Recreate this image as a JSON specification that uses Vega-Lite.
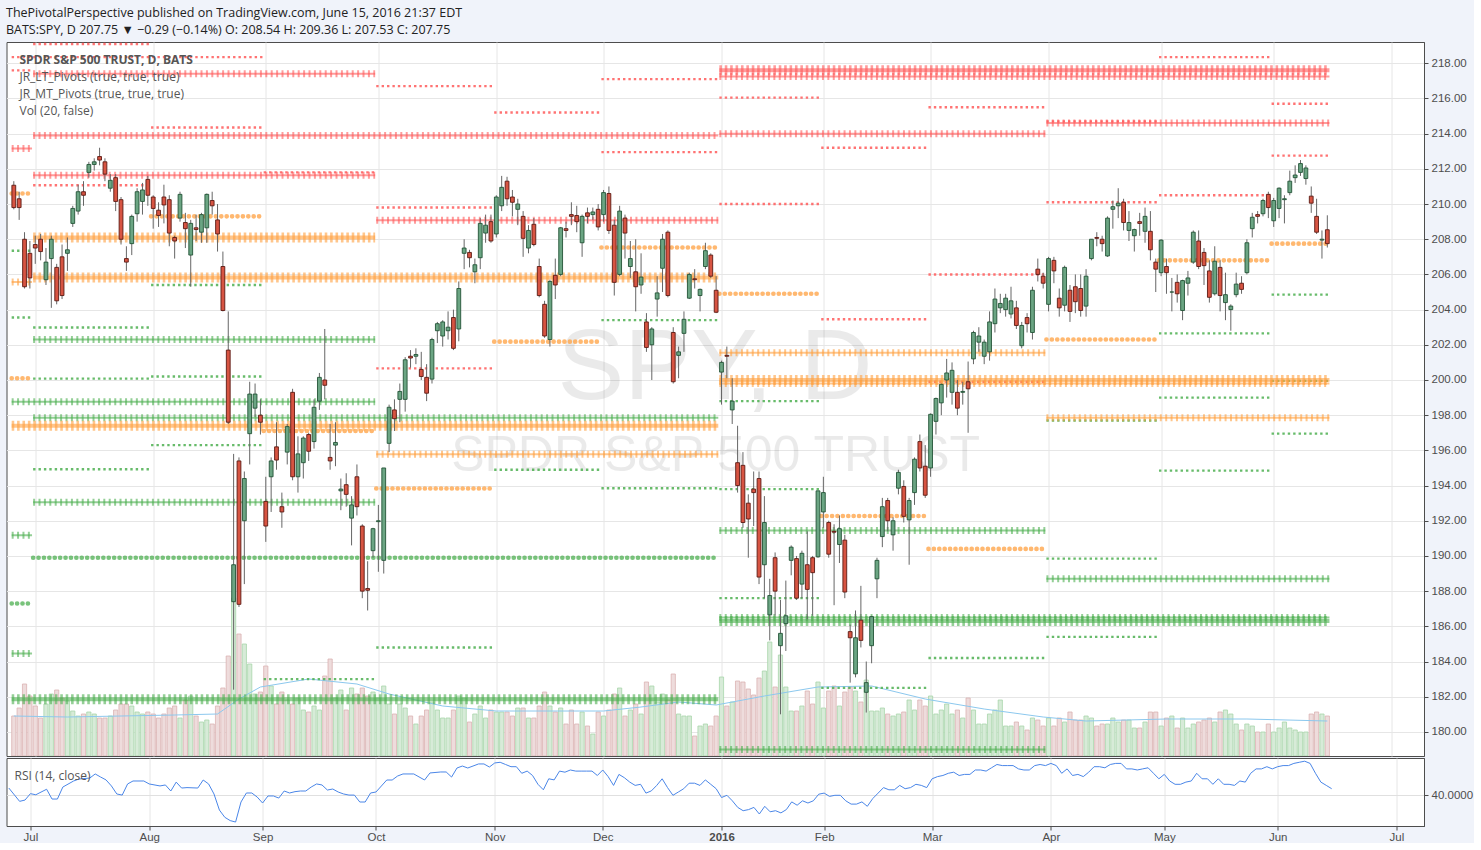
{
"$schema":"https://vega.github.io/schema/vega-lite/v6.json",
"background":"#f0f3fa",
"padding":{"left":5.5,"top":6,"right":0,"bottom":0},
"title":{"text":"ThePivotalPerspective published on TradingView.com, June 15, 2016 21:37 EDT","subtitle":"BATS:SPY, D  207.75 ▼ −0.29 (−0.14%)  O: 208.54  H: 209.36  L: 207.53  C: 207.75","anchor":"start","frame":"bounds","font":"Open Sans","fontSize":12.5,"fontWeight":"normal","color":"#222","subtitleFont":"Open Sans","subtitleFontSize":12.5,"subtitleColor":"#222","subtitlePadding":5,"offset":5},
"datasets":{
"bars":[
{"i":0,"o":211.07,"h":211.3,"l":209.7,"c":209.8,"v":40},{"i":1,"o":210.3,"h":210.7,"l":209.1,"c":209.8,"v":48},{"i":2,"o":208.0,"h":208.4,"l":205.2,"c":205.3,"v":72},{"i":3,"o":207.2,"h":207.9,"l":205.2,"c":205.8,"v":60},{"i":4,"o":207.7,"h":208.2,"l":206.6,"c":207.5,"v":50},{"i":5,"o":208.0,"h":208.3,"l":206.8,"c":207.3,"v":38},{"i":6,"o":205.7,"h":207.5,"l":205.4,"c":206.7,"v":52},{"i":7,"o":206.9,"h":208.2,"l":204.1,"c":208.0,"v":62},{"i":8,"o":206.4,"h":206.6,"l":204.3,"c":204.5,"v":66},{"i":9,"o":207.0,"h":207.7,"l":204.6,"c":204.8,"v":58},
{"i":10,"o":207.2,"h":208.1,"l":206.2,"c":207.4,"v":55},{"i":11,"o":208.9,"h":209.9,"l":208.7,"c":209.75,"v":45},{"i":12,"o":209.6,"h":211.1,"l":209.4,"c":210.7,"v":40},{"i":13,"o":210.7,"h":211.3,"l":209.9,"c":210.5,"v":42},{"i":14,"o":211.8,"h":212.4,"l":211.5,"c":212.25,"v":44},{"i":15,"o":212.25,"h":212.6,"l":211.9,"c":212.4,"v":42},{"i":16,"o":212.7,"h":213.2,"l":212.2,"c":212.5,"v":38},{"i":17,"o":212.4,"h":212.6,"l":211.3,"c":211.7,"v":38},{"i":18,"o":210.9,"h":211.7,"l":210.7,"c":211.35,"v":40},{"i":19,"o":211.5,"h":211.7,"l":209.6,"c":210.15,"v":46},
{"i":20,"o":210.25,"h":210.4,"l":207.7,"c":208.0,"v":52},{"i":21,"o":206.9,"h":207.6,"l":206.2,"c":206.7,"v":52},{"i":22,"o":207.75,"h":209.4,"l":207.1,"c":209.3,"v":50},{"i":23,"o":209.45,"h":210.9,"l":209.0,"c":210.7,"v":44},{"i":24,"o":210.15,"h":211.2,"l":209.4,"c":210.8,"v":42},{"i":25,"o":211.4,"h":211.6,"l":209.9,"c":210.5,"v":44},{"i":26,"o":210.4,"h":210.5,"l":208.6,"c":209.75,"v":42},{"i":27,"o":209.65,"h":210.1,"l":208.7,"c":209.35,"v":38},{"i":28,"o":210.4,"h":211.1,"l":208.9,"c":209.95,"v":42},{"i":29,"o":210.25,"h":210.5,"l":207.6,"c":208.35,"v":48},
{"i":30,"o":208.1,"h":208.2,"l":206.9,"c":207.9,"v":50},{"i":31,"o":209.2,"h":210.7,"l":209.0,"c":210.55,"v":38},{"i":32,"o":208.95,"h":209.5,"l":207.5,"c":208.6,"v":56},{"i":33,"o":207.1,"h":209.1,"l":205.3,"c":208.9,"v":60},{"i":34,"o":208.65,"h":209.4,"l":207.9,"c":208.55,"v":40},{"i":35,"o":208.4,"h":209.5,"l":207.8,"c":209.4,"v":34},{"i":36,"o":208.65,"h":210.6,"l":207.8,"c":210.55,"v":36},{"i":37,"o":210.2,"h":210.7,"l":209.4,"c":209.9,"v":32},{"i":38,"o":209.1,"h":210.0,"l":207.3,"c":208.3,"v":50},{"i":39,"o":206.45,"h":207.3,"l":203.9,"c":203.95,"v":68},
{"i":40,"o":201.7,"h":203.9,"l":197.5,"c":197.6,"v":100},{"i":41,"o":187.4,"h":195.8,"l":182.4,"c":189.5,"v":158},{"i":42,"o":195.4,"h":195.6,"l":187.1,"c":187.25,"v":122},{"i":43,"o":192.0,"h":194.8,"l":188.4,"c":194.4,"v":112},{"i":44,"o":196.95,"h":199.9,"l":195.2,"c":199.2,"v":92},{"i":45,"o":198.4,"h":199.8,"l":197.9,"c":199.2,"v":62},{"i":46,"o":198.0,"h":198.9,"l":196.9,"c":197.6,"v":64},{"i":47,"o":193.1,"h":194.5,"l":190.8,"c":191.7,"v":90},{"i":48,"o":194.5,"h":195.6,"l":192.5,"c":195.4,"v":70},{"i":49,"o":196.2,"h":197.6,"l":194.9,"c":195.45,"v":52},
{"i":50,"o":192.8,"h":193.6,"l":191.6,"c":192.5,"v":64},{"i":51,"o":195.9,"h":197.5,"l":195.2,"c":197.35,"v":56},{"i":52,"o":199.3,"h":199.5,"l":194.3,"c":194.5,"v":52},{"i":53,"o":194.5,"h":196.8,"l":193.6,"c":195.8,"v":58},{"i":54,"o":195.3,"h":196.8,"l":194.4,"c":196.7,"v":46},{"i":55,"o":196.9,"h":197.0,"l":195.4,"c":195.95,"v":44},{"i":56,"o":196.5,"h":198.9,"l":196.1,"c":198.45,"v":50},{"i":57,"o":198.8,"h":200.4,"l":198.3,"c":200.15,"v":46},{"i":58,"o":200.0,"h":202.9,"l":198.9,"c":199.7,"v":80},{"i":59,"o":195.6,"h":197.5,"l":194.9,"c":195.4,"v":97},
{"i":60,"o":196.3,"h":197.6,"l":195.1,"c":196.45,"v":58},{"i":61,"o":193.7,"h":194.4,"l":192.6,"c":193.8,"v":66},{"i":62,"o":194.05,"h":194.7,"l":192.8,"c":193.5,"v":46},{"i":63,"o":192.15,"h":193.4,"l":190.6,"c":192.9,"v":68},{"i":64,"o":194.5,"h":195.2,"l":192.3,"c":192.8,"v":62},{"i":65,"o":191.7,"h":191.8,"l":187.6,"c":188.0,"v":68},{"i":66,"o":188.15,"h":189.7,"l":186.9,"c":188.05,"v":60},{"i":67,"o":190.3,"h":191.6,"l":189.9,"c":191.55,"v":64},{"i":68,"o":191.95,"h":192.9,"l":189.1,"c":192.0,"v":58},{"i":69,"o":189.75,"h":195.0,"l":189.0,"c":195.0,"v":70},
{"i":70,"o":196.4,"h":198.6,"l":195.9,"c":198.45,"v":52},{"i":71,"o":198.3,"h":198.9,"l":197.1,"c":197.8,"v":42},{"i":72,"o":198.9,"h":199.8,"l":197.6,"c":199.35,"v":52},{"i":73,"o":198.9,"h":201.3,"l":198.2,"c":201.15,"v":48},{"i":74,"o":201.35,"h":201.7,"l":200.7,"c":201.25,"v":40},{"i":75,"o":201.35,"h":201.8,"l":200.9,"c":201.45,"v":32},{"i":76,"o":200.6,"h":201.6,"l":200.0,"c":200.2,"v":40},{"i":77,"o":200.15,"h":200.9,"l":198.8,"c":199.25,"v":46},{"i":78,"o":200.05,"h":202.4,"l":199.8,"c":202.3,"v":54},{"i":79,"o":202.8,"h":203.3,"l":202.1,"c":203.2,"v":46},
{"i":80,"o":202.5,"h":203.4,"l":201.9,"c":203.3,"v":38},{"i":81,"o":202.8,"h":203.9,"l":202.3,"c":203.0,"v":38},{"i":82,"o":203.55,"h":204.0,"l":201.7,"c":201.8,"v":46},{"i":83,"o":202.9,"h":205.6,"l":202.2,"c":205.2,"v":60},{"i":84,"o":207.2,"h":208.0,"l":206.3,"c":207.5,"v":58},{"i":85,"o":207.25,"h":207.4,"l":206.4,"c":206.95,"v":34},{"i":86,"o":206.15,"h":206.9,"l":205.5,"c":206.55,"v":42},{"i":87,"o":206.95,"h":209.2,"l":206.3,"c":208.9,"v":50},{"i":88,"o":208.35,"h":209.4,"l":207.8,"c":208.8,"v":38},{"i":89,"o":209.0,"h":209.4,"l":207.8,"c":207.9,"v":46},
{"i":90,"o":208.3,"h":210.5,"l":208.1,"c":210.4,"v":44},{"i":91,"o":209.9,"h":211.6,"l":209.6,"c":210.95,"v":44},{"i":92,"o":211.3,"h":211.55,"l":209.9,"c":210.3,"v":44},{"i":93,"o":210.4,"h":210.8,"l":209.3,"c":210.1,"v":40},{"i":94,"o":209.7,"h":210.3,"l":208.8,"c":210.0,"v":48},{"i":95,"o":209.3,"h":209.6,"l":207.0,"c":208.05,"v":48},{"i":96,"o":207.5,"h":208.8,"l":207.2,"c":208.5,"v":38},{"i":97,"o":208.85,"h":209.2,"l":207.6,"c":207.7,"v":38},{"i":98,"o":206.45,"h":206.9,"l":204.7,"c":204.8,"v":50},{"i":99,"o":204.3,"h":204.5,"l":202.4,"c":202.5,"v":64},
{"i":100,"o":202.3,"h":205.7,"l":201.9,"c":205.6,"v":50},{"i":101,"o":205.95,"h":206.9,"l":204.6,"c":205.4,"v":44},{"i":102,"o":206.0,"h":208.7,"l":205.9,"c":208.65,"v":48},{"i":103,"o":208.6,"h":209.0,"l":208.1,"c":208.5,"v":32},{"i":104,"o":209.4,"h":210.1,"l":208.8,"c":209.3,"v":46},{"i":105,"o":209.35,"h":209.9,"l":208.4,"c":209.0,"v":32},{"i":106,"o":207.8,"h":209.4,"l":207.0,"c":209.3,"v":44},{"i":107,"o":209.5,"h":209.8,"l":208.9,"c":209.3,"v":30},{"i":108,"o":209.4,"h":209.8,"l":209.1,"c":209.55,"v":22},{"i":109,"o":209.7,"h":210.0,"l":208.5,"c":208.7,"v":44},
{"i":110,"o":209.4,"h":210.8,"l":209.0,"c":210.65,"v":40},{"i":111,"o":210.6,"h":211.0,"l":208.3,"c":208.5,"v":46},{"i":112,"o":208.8,"h":209.1,"l":204.8,"c":205.55,"v":62},{"i":113,"o":206.0,"h":209.9,"l":205.9,"c":209.6,"v":68},{"i":114,"o":209.2,"h":209.4,"l":206.9,"c":208.35,"v":40},{"i":115,"o":206.45,"h":207.9,"l":205.8,"c":206.9,"v":46},{"i":116,"o":206.15,"h":208.0,"l":203.9,"c":205.3,"v":52},{"i":117,"o":205.4,"h":207.2,"l":204.9,"c":205.85,"v":42},{"i":118,"o":203.3,"h":203.8,"l":201.6,"c":201.85,"v":74},{"i":119,"o":202.0,"h":203.0,"l":200.0,"c":202.9,"v":70},
{"i":120,"o":204.6,"h":205.9,"l":203.6,"c":204.95,"v":54},{"i":121,"o":206.35,"h":208.3,"l":205.0,"c":208.0,"v":62},{"i":122,"o":208.4,"h":208.5,"l":204.7,"c":204.8,"v":56},{"i":123,"o":202.7,"h":203.0,"l":199.8,"c":199.9,"v":82},{"i":124,"o":201.4,"h":201.9,"l":200.1,"c":201.6,"v":42},{"i":125,"o":202.65,"h":203.9,"l":201.6,"c":203.45,"v":40},{"i":126,"o":204.65,"h":206.1,"l":204.6,"c":206.0,"v":40},{"i":127,"o":205.75,"h":206.3,"l":205.2,"c":205.7,"v":20},{"i":128,"o":204.8,"h":205.2,"l":203.9,"c":205.15,"v":30},{"i":129,"o":206.45,"h":207.8,"l":206.3,"c":207.35,"v":32},
{"i":130,"o":207.1,"h":207.2,"l":205.8,"c":205.9,"v":30},{"i":131,"o":205.1,"h":205.9,"l":203.8,"c":203.85,"v":40},{"i":132,"o":200.45,"h":201.1,"l":198.6,"c":201.0,"v":79},{"i":133,"o":201.4,"h":201.9,"l":200.1,"c":201.35,"v":50},{"i":134,"o":198.3,"h":200.1,"l":197.5,"c":198.8,"v":54},{"i":135,"o":195.3,"h":197.4,"l":193.6,"c":194.0,"v":75},{"i":136,"o":195.15,"h":195.9,"l":191.6,"c":191.9,"v":74},{"i":137,"o":193.0,"h":193.5,"l":189.9,"c":192.1,"v":67},{"i":138,"o":193.8,"h":194.8,"l":191.7,"c":193.6,"v":61},{"i":139,"o":194.4,"h":194.8,"l":188.4,"c":188.8,"v":78},
{"i":140,"o":189.5,"h":193.4,"l":187.6,"c":191.9,"v":85},{"i":141,"o":186.65,"h":188.7,"l":185.2,"c":187.75,"v":114},{"i":142,"o":189.9,"h":190.2,"l":186.6,"c":188.0,"v":69},{"i":143,"o":184.9,"h":187.5,"l":181.0,"c":185.6,"v":101},{"i":144,"o":186.15,"h":188.6,"l":184.6,"c":186.6,"v":69},{"i":145,"o":189.75,"h":190.6,"l":188.9,"c":190.5,"v":45},{"i":146,"o":189.85,"h":190.0,"l":187.5,"c":187.6,"v":45},{"i":147,"o":188.4,"h":190.3,"l":187.6,"c":190.15,"v":50},{"i":148,"o":189.5,"h":191.4,"l":186.4,"c":188.1,"v":65},{"i":149,"o":189.9,"h":190.0,"l":186.6,"c":189.05,"v":52},
{"i":150,"o":189.95,"h":193.7,"l":189.9,"c":193.7,"v":74},{"i":151,"o":192.5,"h":194.5,"l":191.6,"c":193.6,"v":48},{"i":152,"o":191.9,"h":192.0,"l":189.9,"c":190.1,"v":65},{"i":153,"o":191.4,"h":191.8,"l":187.2,"c":191.35,"v":70},{"i":154,"o":190.65,"h":192.3,"l":189.6,"c":191.55,"v":50},{"i":155,"o":190.9,"h":191.2,"l":187.6,"c":187.95,"v":64},{"i":156,"o":185.7,"h":186.1,"l":182.8,"c":185.35,"v":69},{"i":157,"o":183.3,"h":186.9,"l":183.1,"c":185.35,"v":65},{"i":158,"o":186.35,"h":188.3,"l":184.8,"c":185.2,"v":54},{"i":159,"o":182.25,"h":184.0,"l":181.1,"c":182.8,"v":76},
{"i":160,"o":184.9,"h":186.6,"l":183.9,"c":186.55,"v":45},{"i":161,"o":188.7,"h":189.9,"l":187.6,"c":189.75,"v":45},{"i":162,"o":191.1,"h":193.3,"l":190.5,"c":192.8,"v":48},{"i":163,"o":193.15,"h":193.3,"l":191.4,"c":192.0,"v":42},{"i":164,"o":191.2,"h":192.2,"l":190.3,"c":192.0,"v":40},{"i":165,"o":193.85,"h":194.9,"l":193.5,"c":194.75,"v":42},{"i":166,"o":193.95,"h":194.3,"l":191.9,"c":192.25,"v":44},{"i":167,"o":192.05,"h":193.3,"l":189.5,"c":193.15,"v":56},{"i":168,"o":193.6,"h":195.6,"l":192.9,"c":195.5,"v":46},{"i":169,"o":196.5,"h":196.9,"l":194.8,"c":195.0,"v":56},
{"i":170,"o":195.1,"h":196.3,"l":193.3,"c":193.45,"v":50},{"i":171,"o":195.0,"h":198.1,"l":194.5,"c":198.05,"v":60},{"i":172,"o":197.65,"h":199.0,"l":196.9,"c":198.95,"v":42},{"i":173,"o":198.7,"h":199.8,"l":198.0,"c":199.75,"v":46},{"i":174,"o":200.0,"h":201.2,"l":199.0,"c":200.4,"v":52},{"i":175,"o":199.3,"h":201.0,"l":198.6,"c":200.55,"v":42},{"i":176,"o":199.3,"h":200.0,"l":198.0,"c":198.4,"v":46},{"i":177,"o":199.3,"h":199.9,"l":198.6,"c":199.35,"v":38},{"i":178,"o":199.9,"h":201.05,"l":197.0,"c":199.5,"v":58},{"i":179,"o":201.2,"h":202.8,"l":200.9,"c":202.7,"v":46},
{"i":180,"o":202.15,"h":203.0,"l":201.6,"c":202.5,"v":32},{"i":181,"o":201.35,"h":202.3,"l":200.9,"c":202.15,"v":32},{"i":182,"o":201.6,"h":203.9,"l":201.1,"c":203.3,"v":42},{"i":183,"o":203.2,"h":205.2,"l":202.7,"c":204.6,"v":46},{"i":184,"o":204.1,"h":204.9,"l":203.8,"c":204.35,"v":56},{"i":185,"o":204.0,"h":204.9,"l":203.6,"c":204.65,"v":30},{"i":186,"o":203.75,"h":205.3,"l":203.5,"c":204.5,"v":30},{"i":187,"o":204.1,"h":204.5,"l":202.9,"c":203.1,"v":34},{"i":188,"o":201.95,"h":203.3,"l":201.8,"c":203.1,"v":30},{"i":189,"o":203.55,"h":203.8,"l":202.7,"c":203.2,"v":26},
{"i":190,"o":202.7,"h":205.3,"l":202.3,"c":205.1,"v":38},{"i":191,"o":206.3,"h":206.9,"l":205.6,"c":206.0,"v":36},{"i":192,"o":205.9,"h":206.1,"l":205.2,"c":205.5,"v":30},{"i":193,"o":204.3,"h":207.0,"l":203.9,"c":206.9,"v":38},{"i":194,"o":206.8,"h":207.0,"l":205.5,"c":206.2,"v":30},{"i":195,"o":204.65,"h":205.2,"l":203.6,"c":204.1,"v":38},{"i":196,"o":204.25,"h":206.5,"l":203.9,"c":206.4,"v":34},{"i":197,"o":205.1,"h":205.4,"l":203.3,"c":203.9,"v":44},{"i":198,"o":205.3,"h":206.0,"l":203.8,"c":204.45,"v":36},{"i":199,"o":205.2,"h":206.0,"l":203.6,"c":203.95,"v":36},
{"i":200,"o":204.2,"h":206.3,"l":203.6,"c":205.9,"v":40},{"i":201,"o":206.9,"h":208.0,"l":206.8,"c":208.0,"v":38},{"i":202,"o":208.1,"h":208.4,"l":207.6,"c":208.05,"v":30},{"i":203,"o":208.0,"h":208.2,"l":207.3,"c":207.75,"v":32},{"i":204,"o":207.05,"h":209.3,"l":207.0,"c":209.2,"v":32},{"i":205,"o":209.7,"h":210.2,"l":208.6,"c":209.85,"v":38},{"i":206,"o":209.9,"h":210.9,"l":209.2,"c":210.05,"v":34},{"i":207,"o":210.1,"h":210.3,"l":208.5,"c":208.95,"v":36},{"i":208,"o":208.5,"h":209.6,"l":207.9,"c":208.95,"v":36},{"i":209,"o":208.2,"h":208.6,"l":207.3,"c":208.55,"v":28},
{"i":210,"o":209.0,"h":209.5,"l":208.2,"c":208.9,"v":28},{"i":211,"o":208.45,"h":209.8,"l":207.8,"c":209.3,"v":34},{"i":212,"o":208.45,"h":209.6,"l":206.8,"c":207.4,"v":44},{"i":213,"o":206.7,"h":206.9,"l":205.0,"c":206.3,"v":44},{"i":214,"o":206.1,"h":208.0,"l":205.9,"c":207.95,"v":30},{"i":215,"o":206.45,"h":206.9,"l":204.9,"c":206.1,"v":38},{"i":216,"o":205.0,"h":205.8,"l":203.9,"c":205.0,"v":40},{"i":217,"o":205.55,"h":206.0,"l":204.4,"c":204.9,"v":28},{"i":218,"o":203.95,"h":205.7,"l":203.4,"c":205.65,"v":38},{"i":219,"o":205.5,"h":206.2,"l":204.8,"c":205.8,"v":28},
{"i":220,"o":206.7,"h":208.5,"l":206.6,"c":208.4,"v":32},{"i":221,"o":207.9,"h":208.5,"l":206.3,"c":206.45,"v":34},{"i":222,"o":207.25,"h":207.5,"l":205.4,"c":206.5,"v":36},{"i":223,"o":206.2,"h":206.8,"l":204.4,"c":204.7,"v":38},{"i":224,"o":204.9,"h":207.6,"l":204.8,"c":206.75,"v":34},{"i":225,"o":206.4,"h":206.8,"l":203.9,"c":204.8,"v":44},{"i":226,"o":204.4,"h":206.1,"l":203.4,"c":204.85,"v":46},{"i":227,"o":204.0,"h":204.3,"l":202.8,"c":204.2,"v":42},{"i":228,"o":204.85,"h":206.1,"l":204.7,"c":205.45,"v":32},{"i":229,"o":205.5,"h":205.9,"l":204.9,"c":205.15,"v":26},
{"i":230,"o":206.1,"h":208.0,"l":206.0,"c":207.8,"v":32},{"i":231,"o":208.6,"h":209.5,"l":208.1,"c":209.25,"v":30},{"i":232,"o":209.4,"h":209.6,"l":208.9,"c":209.3,"v":24},{"i":233,"o":209.45,"h":210.3,"l":209.3,"c":210.2,"v":24},{"i":234,"o":210.55,"h":210.7,"l":209.2,"c":209.8,"v":32},{"i":235,"o":209.05,"h":210.35,"l":208.7,"c":210.2,"v":24},{"i":236,"o":209.75,"h":210.95,"l":209.2,"c":210.9,"v":28},{"i":237,"o":210.25,"h":210.5,"l":208.9,"c":210.3,"v":34},{"i":238,"o":210.65,"h":211.9,"l":210.5,"c":211.3,"v":28},{"i":239,"o":211.5,"h":212.2,"l":211.2,"c":211.65,"v":26},
{"i":240,"o":211.8,"h":212.5,"l":211.6,"c":212.3,"v":24},{"i":241,"o":211.45,"h":212.2,"l":211.1,"c":212.05,"v":24},{"i":242,"o":210.45,"h":211.0,"l":209.5,"c":210.05,"v":42},{"i":243,"o":209.3,"h":210.3,"l":208.3,"c":208.4,"v":44},{"i":244,"o":207.95,"h":208.5,"l":206.9,"c":208.0,"v":42},{"i":245,"o":208.54,"h":209.36,"l":207.53,"c":207.75,"v":40}
],
"levels":[
{"s":-0.4,"e":46.4,"p":218.35,"k":"R","t":"m"},{"s":-0.4,"e":3.4,"p":217.6,"k":"R","t":"m"},{"s":-0.4,"e":3.4,"p":213.15,"k":"R","t":"q"},{"s":-0.4,"e":3.4,"p":210.6,"k":"P","t":"d"},{"s":-0.4,"e":3.4,"p":207.35,"k":"S","t":"m"},{"s":-0.4,"e":3.4,"p":205.57,"k":"P","t":"q"},{"s":-0.4,"e":3.4,"p":203.55,"k":"S","t":"m"},{"s":-0.4,"e":3.4,"p":200.1,"k":"P","t":"d"},{"s":-0.4,"e":3.4,"p":191.17,"k":"S","t":"q"},{"s":-0.4,"e":3.4,"p":187.3,"k":"S","t":"d"},{"s":-0.4,"e":3.4,"p":184.45,"k":"S","t":"q"},
{"s":-0.4,"e":131.4,"p":197.4,"k":"P","t":"y"},{"s":-0.4,"e":131.4,"p":181.85,"k":"S","t":"y"},
{"s":3.6,"e":131.4,"p":213.9,"k":"R","t":"q"},{"s":3.6,"e":131.4,"p":205.83,"k":"P","t":"y"},{"s":3.6,"e":131.4,"p":197.86,"k":"S","t":"q"},{"s":3.6,"e":131.4,"p":189.9,"k":"S","t":"d"},
{"s":3.6,"e":67.4,"p":217.4,"k":"R","t":"q"},{"s":3.6,"e":67.4,"p":211.63,"k":"R","t":"q"},{"s":3.6,"e":67.4,"p":208.1,"k":"P","t":"y"},{"s":3.6,"e":67.4,"p":202.3,"k":"S","t":"q"},{"s":-0.4,"e":67.4,"p":198.77,"k":"S","t":"q"},{"s":3.6,"e":67.4,"p":193.05,"k":"S","t":"q"},
{"s":67.6,"e":131.4,"p":209.08,"k":"R","t":"q"},{"s":67.6,"e":131.4,"p":195.78,"k":"P","t":"q"},
{"s":3.6,"e":25.4,"p":219.1,"k":"R","t":"m"},{"s":3.6,"e":25.4,"p":211.07,"k":"R","t":"m"},{"s":3.6,"e":25.4,"p":202.98,"k":"S","t":"m"},{"s":3.6,"e":25.4,"p":200.08,"k":"S","t":"m"},{"s":3.6,"e":25.4,"p":194.93,"k":"S","t":"m"},
{"s":25.6,"e":46.4,"p":214.35,"k":"R","t":"m"},{"s":25.6,"e":46.4,"p":209.3,"k":"P","t":"d"},{"s":25.6,"e":46.4,"p":205.4,"k":"S","t":"m"},{"s":25.6,"e":46.4,"p":200.2,"k":"S","t":"m"},{"s":25.6,"e":46.4,"p":196.3,"k":"S","t":"m"},
{"s":46.6,"e":67.4,"p":211.8,"k":"R","t":"m"},{"s":46.6,"e":67.4,"p":197.1,"k":"P","t":"d"},{"s":46.6,"e":67.4,"p":183.0,"k":"S","t":"m"},
{"s":67.6,"e":89.4,"p":216.7,"k":"R","t":"m"},{"s":67.6,"e":89.4,"p":209.8,"k":"R","t":"m"},{"s":67.6,"e":89.4,"p":200.66,"k":"R","t":"m"},{"s":67.6,"e":89.4,"p":193.83,"k":"P","t":"d"},{"s":67.6,"e":89.4,"p":184.8,"k":"S","t":"m"},
{"s":89.6,"e":109.4,"p":215.2,"k":"R","t":"m"},{"s":89.6,"e":109.4,"p":202.18,"k":"P","t":"d"},{"s":89.6,"e":109.4,"p":194.9,"k":"S","t":"m"},
{"s":109.6,"e":131.4,"p":217.1,"k":"R","t":"m"},{"s":109.6,"e":131.4,"p":212.95,"k":"R","t":"m"},{"s":109.6,"e":131.4,"p":207.53,"k":"P","t":"d"},{"s":109.6,"e":131.4,"p":203.4,"k":"S","t":"m"},{"s":109.6,"e":131.4,"p":193.85,"k":"S","t":"m"},
{"s":131.6,"e":245.4,"p":217.6,"k":"R","t":"y"},{"s":131.6,"e":245.4,"p":217.25,"k":"R","t":"q"},{"s":131.6,"e":245.4,"p":200.0,"k":"P","t":"y"},{"s":131.6,"e":245.4,"p":199.8,"k":"P","t":"q"},{"s":131.6,"e":245.4,"p":186.3,"k":"S","t":"y"},{"s":131.6,"e":245.4,"p":186.5,"k":"S","t":"q"},
{"s":131.6,"e":192.4,"p":214.0,"k":"R","t":"q"},{"s":131.6,"e":192.4,"p":201.55,"k":"P","t":"q"},{"s":131.6,"e":192.4,"p":191.45,"k":"S","t":"q"},{"s":131.6,"e":192.4,"p":179.0,"k":"S","t":"q"},
{"s":192.6,"e":245.4,"p":214.6,"k":"R","t":"q"},{"s":192.6,"e":245.4,"p":197.85,"k":"P","t":"q"},{"s":192.6,"e":245.4,"p":188.7,"k":"S","t":"q"},
{"s":131.6,"e":150.4,"p":216.05,"k":"R","t":"m"},{"s":131.6,"e":150.4,"p":210.0,"k":"R","t":"m"},{"s":131.6,"e":150.4,"p":204.9,"k":"P","t":"d"},{"s":131.6,"e":150.4,"p":198.8,"k":"S","t":"m"},{"s":131.6,"e":150.4,"p":193.8,"k":"S","t":"m"},{"s":131.6,"e":150.4,"p":187.6,"k":"S","t":"m"},
{"s":150.6,"e":170.4,"p":213.2,"k":"R","t":"m"},{"s":150.6,"e":170.4,"p":203.45,"k":"R","t":"m"},{"s":150.6,"e":170.4,"p":192.27,"k":"P","t":"d"},{"s":150.6,"e":170.4,"p":182.5,"k":"S","t":"m"},
{"s":170.6,"e":192.4,"p":215.5,"k":"R","t":"m"},{"s":170.6,"e":192.4,"p":206.0,"k":"R","t":"m"},{"s":170.6,"e":192.4,"p":199.9,"k":"R","t":"m"},{"s":170.6,"e":192.4,"p":190.4,"k":"P","t":"d"},{"s":170.6,"e":192.4,"p":184.2,"k":"S","t":"m"},
{"s":192.6,"e":213.4,"p":214.7,"k":"R","t":"m"},{"s":192.6,"e":213.4,"p":210.1,"k":"R","t":"m"},{"s":192.6,"e":213.4,"p":202.3,"k":"P","t":"d"},{"s":192.6,"e":213.4,"p":197.7,"k":"S","t":"m"},{"s":192.6,"e":213.4,"p":189.85,"k":"S","t":"m"},{"s":192.6,"e":213.4,"p":185.4,"k":"S","t":"m"},
{"s":213.6,"e":234.4,"p":218.35,"k":"R","t":"m"},{"s":213.6,"e":234.4,"p":210.5,"k":"R","t":"m"},{"s":213.6,"e":234.4,"p":206.8,"k":"P","t":"d"},{"s":213.6,"e":234.4,"p":202.65,"k":"S","t":"m"},{"s":213.6,"e":234.4,"p":199.0,"k":"S","t":"m"},{"s":213.6,"e":234.4,"p":194.85,"k":"S","t":"m"},
{"s":234.6,"e":245.4,"p":215.7,"k":"R","t":"m"},{"s":234.6,"e":245.4,"p":212.75,"k":"R","t":"m"},{"s":234.6,"e":245.4,"p":207.75,"k":"P","t":"d"},{"s":234.6,"e":245.4,"p":204.85,"k":"S","t":"m"},{"s":234.6,"e":245.4,"p":199.95,"k":"S","t":"m"},{"s":234.6,"e":245.4,"p":196.95,"k":"S","t":"m"}
],
"vma":[{"i":0,"m":40},{"i":10,"m":39},{"i":20,"m":40},{"i":30,"m":41},{"i":38,"m":42},{"i":42,"m":57},{"i":46,"m":69},{"i":55,"m":77},{"i":64,"m":72},{"i":70,"m":62},{"i":80,"m":50},{"i":90,"m":45},{"i":100,"m":45},{"i":110,"m":45},{"i":117,"m":49},{"i":124,"m":54},{"i":131,"m":51},{"i":140,"m":60},{"i":150,"m":69},{"i":160,"m":70},{"i":170,"m":57},{"i":181,"m":47},{"i":192,"m":39},{"i":200,"m":35},{"i":215,"m":37},{"i":230,"m":37},{"i":245,"m":35}],
"rsi":[{"i":0,"r":46.6},{"i":2,"r":34.5},{"i":3,"r":35.7},{"i":4,"r":41.5},{"i":5,"r":40.5},{"i":7,"r":45.5},{"i":8,"r":36.6},{"i":9,"r":36.6},{"i":10,"r":47.5},{"i":12,"r":53},{"i":13,"r":54.8},{"i":15,"r":55.7},{"i":16,"r":59.4},{"i":17,"r":56.6},{"i":18,"r":54},{"i":19,"r":48.5},{"i":20,"r":41.2},{"i":21,"r":40.2},{"i":22,"r":50.3},{"i":23,"r":53},{"i":25,"r":53},{"i":26,"r":50.3},{"i":28,"r":48.5},{"i":29,"r":49.4},{"i":30,"r":43.9},{"i":31,"r":52},{"i":32,"r":46.6},{"i":33,"r":47},{"i":35,"r":46.6},{"i":36,"r":53.9},{"i":37,"r":50.3},{"i":38,"r":41.2},{"i":39,"r":26.6},{"i":40,"r":20},{"i":41,"r":17},{"i":42,"r":15.7},{"i":43,"r":33.9},{"i":44,"r":42.1},{"i":45,"r":42.1},{"i":46,"r":38.4},{"i":47,"r":33},{"i":48,"r":39.4},{"i":49,"r":39.4},{"i":50,"r":37.5},{"i":51,"r":43.9},{"i":52,"r":42.1},{"i":53,"r":43.3},{"i":54,"r":43.9},{"i":55,"r":43.9},{"i":56,"r":47.5},{"i":57,"r":50.3},{"i":58,"r":49.4},{"i":59,"r":44.8},{"i":60,"r":45.7},{"i":61,"r":43},{"i":62,"r":41.2},{"i":63,"r":40.2},{"i":64,"r":40.2},{"i":65,"r":33.9},{"i":66,"r":33.9},{"i":67,"r":42.1},{"i":68,"r":43},{"i":70,"r":53.9},{"i":71,"r":53.9},{"i":72,"r":57.5},{"i":73,"r":59.4},{"i":75,"r":59.4},{"i":77,"r":53.9},{"i":78,"r":60.3},{"i":80,"r":61.2},{"i":81,"r":61.2},{"i":82,"r":56.6},{"i":83,"r":64.8},{"i":84,"r":66.6},{"i":85,"r":64.8},{"i":87,"r":68.5},{"i":88,"r":68.5},{"i":89,"r":65.7},{"i":90,"r":69.4},
{"i":91,"r":70},{"i":92,"r":68},{"i":93,"r":66},{"i":94,"r":66},{"i":95,"r":60},{"i":96,"r":62},{"i":97,"r":58},{"i":98,"r":50},{"i":99,"r":45},{"i":100,"r":55},{"i":101,"r":54},{"i":102,"r":62},{"i":103,"r":61},{"i":104,"r":63},{"i":105,"r":62},{"i":106,"r":62},{"i":107,"r":62},{"i":108,"r":62},{"i":109,"r":58},{"i":110,"r":63},{"i":111,"r":57},{"i":112,"r":49},{"i":113,"r":59},{"i":114,"r":56},{"i":115,"r":52},{"i":116,"r":49},{"i":117,"r":50},{"i":118,"r":42},{"i":119,"r":44},{"i":120,"r":49},{"i":121,"r":55},{"i":122,"r":47},{"i":123,"r":40},{"i":124,"r":43},{"i":125,"r":46},{"i":126,"r":51},{"i":127,"r":51},{"i":128,"r":49},{"i":129,"r":54},{"i":130,"r":50},{"i":131,"r":46},{"i":132,"r":38},{"i":133,"r":40},{"i":134,"r":35},{"i":135,"r":29},{"i":136,"r":26},{"i":137,"r":27},{"i":138,"r":29},{"i":139,"r":23},{"i":140,"r":30},{"i":141,"r":25},{"i":142,"r":26},{"i":143,"r":24},{"i":144,"r":27},{"i":145,"r":34},{"i":146,"r":31},{"i":147,"r":35},{"i":148,"r":33},{"i":149,"r":35},{"i":150,"r":41},{"i":151,"r":42},{"i":152,"r":39},{"i":153,"r":40},{"i":154,"r":40},{"i":155,"r":35},{"i":156,"r":32},{"i":157,"r":32},{"i":158,"r":34},{"i":159,"r":30},{"i":160,"r":37},{"i":161,"r":42},{"i":162,"r":47},{"i":163,"r":45},{"i":164,"r":45},{"i":165,"r":49},{"i":166,"r":46},{"i":167,"r":47},{"i":168,"r":50},{"i":169,"r":49},{"i":170,"r":47},{"i":171,"r":55},{"i":172,"r":57},{"i":173,"r":58},{"i":174,"r":60},{"i":175,"r":61},{"i":176,"r":58},{"i":177,"r":59},{"i":178,"r":59},{"i":179,"r":63},{"i":180,"r":63},{"i":181,"r":62},{"i":182,"r":65},{"i":183,"r":68},{"i":184,"r":67},{"i":185,"r":67},{"i":186,"r":67},{"i":187,"r":64},{"i":188,"r":63},{"i":189,"r":63},{"i":190,"r":67},{"i":191,"r":68},{"i":192,"r":67},{"i":193,"r":69},{"i":194,"r":67},{"i":195,"r":60},{"i":196,"r":64},{"i":197,"r":58},{"i":198,"r":59},{"i":199,"r":57},{"i":200,"r":61},{"i":201,"r":66},{"i":202,"r":66},{"i":203,"r":65},{"i":204,"r":68},{"i":205,"r":69},{"i":206,"r":69},{"i":207,"r":64},{"i":208,"r":64},{"i":209,"r":63},{"i":210,"r":64},{"i":211,"r":65},{"i":212,"r":60},{"i":213,"r":55},{"i":214,"r":59},{"i":215,"r":53},{"i":216,"r":50},{"i":217,"r":50},{"i":218,"r":52},{"i":219,"r":53},{"i":220,"r":60},{"i":221,"r":55},{"i":222,"r":55},{"i":223,"r":50},{"i":224,"r":55},{"i":225,"r":50},{"i":226,"r":50},{"i":227,"r":49},{"i":228,"r":53},{"i":229,"r":52},{"i":230,"r":60},{"i":231,"r":64},{"i":232,"r":64},{"i":233,"r":66},{"i":234,"r":64},{"i":235,"r":66},{"i":236,"r":67},{"i":237,"r":67},{"i":238,"r":69},{"i":239,"r":70},{"i":240,"r":71},{"i":241,"r":69},{"i":242,"r":60},{"i":243,"r":52},{"i":244,"r":49},{"i":245,"r":46}]
},
"vconcat":[
{
"width":1417.5,"height":714,
"layer":[
{"layer":[
{"data":{"name":"bars"},"mark":{"type":"bar","width":4.2,"strokeWidth":0.8,"clip":true},
"encoding":{"x":{"field":"i","type":"quantitative","scale":{"domain":[-0.43,262.1],"nice":false,"zero":false},"axis":{"values":[4,26,47,68,90,110,132,151,171,193,214,235,257],"tickCount":60,"labels":false,"ticks":false,"domain":false,"grid":true,"gridColor":"#e6e6e6","title":null}},
"y":{"field":"v","type":"quantitative","scale":{"domain":[0,714],"nice":false},"axis":null},
"fill":{"condition":{"test":"datum.c >= datum.o","value":"#d7ebd8"},"value":"#eedcdc"},
"stroke":{"condition":{"test":"datum.c >= datum.o","value":"#a8d6ab"},"value":"#dbb2b2"}}},
{"data":{"name":"vma"},"mark":{"type":"line","color":"#8cc8ee","strokeWidth":1,"clip":true},
"encoding":{"x":{"field":"i","type":"quantitative"},"y":{"field":"m","type":"quantitative","axis":null}}}
]},
{"layer":[
{"data":{"values":[{"i":130.8,"p":200.6,"txt":"SPY, D"}]},
"mark":{"type":"text","font":"Liberation Sans","fontSize":100,"color":"#000","opacity":0.08,"align":"center","baseline":"middle"},
"encoding":{"x":{"field":"i","type":"quantitative"},"y":{"field":"p","type":"quantitative","scale":{"domain":[178.63,219.21],"nice":false,"zero":false},"axis":{"orient":"right","values":[180,182,184,186,188,190,192,194,196,198,200,202,204,206,208,210,212,214,216,218],"tickCount":40,"format":".2f","labelOverlap":false,"grid":true,"gridColor":"#e6e6e6","tickSize":4,"labelPadding":3,"title":null}},"text":{"field":"txt"}}},
{"data":{"values":[{"i":130.9,"p":195.7,"txt":"SPDR S&P 500 TRUST"}]},
"mark":{"type":"text","font":"Liberation Sans","fontSize":50,"color":"#000","opacity":0.08,"align":"center","baseline":"middle"},
"encoding":{"x":{"field":"i","type":"quantitative"},"y":{"field":"p","type":"quantitative"},"text":{"field":"txt"}}},
{"data":{"name":"levels"},"transform":[{"filter":"datum.t == 'm'"}],"mark":{"type":"rule","strokeWidth":2.4,"strokeDash":[2.4,3.0],"opacity":0.85,"clip":true},
"encoding":{"x":{"field":"s","type":"quantitative"},"x2":{"field":"e"},"y":{"field":"p","type":"quantitative"},"color":{"field":"k","type":"nominal","scale":{"domain":["R","P","S"],"range":["#ff5a5a","#ffa040","#4caf50"]},"legend":null}}},
{"data":{"name":"levels"},"transform":[{"filter":"datum.t == 'd'"}],"mark":{"type":"rule","strokeWidth":4.6,"strokeCap":"round","strokeDash":[0.1,5.3],"opacity":0.75,"clip":true},
"encoding":{"x":{"field":"s","type":"quantitative"},"x2":{"field":"e"},"y":{"field":"p","type":"quantitative"},"color":{"field":"k","type":"nominal","legend":null}}},
{"data":{"name":"levels"},"transform":[{"filter":"datum.t == 'q'"}],"mark":{"type":"rule","strokeWidth":2,"opacity":0.6,"clip":true},
"encoding":{"x":{"field":"s","type":"quantitative"},"x2":{"field":"e"},"y":{"field":"p","type":"quantitative"},"color":{"field":"k","type":"nominal","legend":null}}},
{"data":{"name":"levels"},"transform":[{"filter":"datum.t == 'q'"}],"mark":{"type":"rule","strokeWidth":7,"strokeDash":[2,3.4],"opacity":0.6,"clip":true},
"encoding":{"x":{"field":"s","type":"quantitative"},"x2":{"field":"e"},"y":{"field":"p","type":"quantitative"},"color":{"field":"k","type":"nominal","legend":null}}},
{"data":{"name":"levels"},"transform":[{"filter":"datum.t == 'y'"}],"mark":{"type":"rule","strokeWidth":4,"opacity":0.6,"clip":true},
"encoding":{"x":{"field":"s","type":"quantitative"},"x2":{"field":"e"},"y":{"field":"p","type":"quantitative"},"color":{"field":"k","type":"nominal","legend":null}}},
{"data":{"name":"levels"},"transform":[{"filter":"datum.t == 'y'"}],"mark":{"type":"rule","strokeWidth":10,"strokeDash":[2.6,2.8],"opacity":0.6,"clip":true},
"encoding":{"x":{"field":"s","type":"quantitative"},"x2":{"field":"e"},"y":{"field":"p","type":"quantitative"},"color":{"field":"k","type":"nominal","legend":null}}},
{"data":{"name":"bars"},"mark":{"type":"rule","color":"#666","strokeWidth":1,"clip":true},
"encoding":{"x":{"field":"i","type":"quantitative"},"y":{"field":"l","type":"quantitative"},"y2":{"field":"h"}}},
{"data":{"name":"bars"},"mark":{"type":"bar","width":3.8,"strokeWidth":0.9,"clip":true},
"encoding":{"x":{"field":"i","type":"quantitative"},"y":{"field":"o","type":"quantitative"},"y2":{"field":"c"},
"fill":{"condition":{"test":"datum.c >= datum.o","value":"#6ba583"},"value":"#d75442"},
"stroke":{"condition":{"test":"datum.c >= datum.o","value":"#225437"},"value":"#5b1a13"}}},
{"mark":{"type":"rule","color":"#e0392b","strokeWidth":1,"strokeDash":[2,2]},"encoding":{"y":{"datum":207.75,"type":"quantitative"}}},
{"data":{"values":[{"i":1.06,"p":218.19,"txt":"SPDR S&P 500 TRUST, D, BATS"}]},"mark":{"type":"text","font":"Open Sans","fontSize":12,"fontWeight":"bold","color":"#555","align":"left","baseline":"middle"},
"encoding":{"x":{"field":"i","type":"quantitative"},"y":{"field":"p","type":"quantitative"},"text":{"field":"txt"}}},
{"data":{"values":[{"i":1.06,"p":217.22,"txt":"JR_LT_Pivots (true, true, true)"},{"i":1.06,"p":216.26,"txt":"JR_MT_Pivots (true, true, true)"},{"i":1.06,"p":215.29,"txt":"Vol (20, false)"}]},"mark":{"type":"text","font":"Open Sans","fontSize":12,"color":"#555","align":"left","baseline":"middle"},
"encoding":{"x":{"field":"i","type":"quantitative"},"y":{"field":"p","type":"quantitative"},"text":{"field":"txt"}}},
{"mark":{"type":"rect","color":"#d9503f","clip":false},"encoding":{"x":{"datum":262.1,"type":"quantitative"},"x2":{"datum":270.0},"y":{"datum":208.19,"type":"quantitative"},"y2":{"datum":207.31}}},
{"mark":{"type":"text","color":"white","font":"Liberation Sans","fontSize":12,"fontWeight":"bold","align":"center","baseline":"middle","clip":false},"encoding":{"x":{"datum":266.05,"type":"quantitative"},"y":{"datum":207.75,"type":"quantitative"},"text":{"value":"207.75"}}}
]}
],
"resolve":{"scale":{"y":"independent"}}
},
{
"width":1417.5,"height":68,
"layer":[
{"mark":{"type":"rect","color":"#eef2fc"},"encoding":{"y":{"datum":70,"type":"quantitative","scale":{"domain":[12.1,73.9],"nice":false,"zero":false},"axis":{"orient":"right","values":[40],"format":".4f","grid":true,"gridColor":"#e0e0e0","tickSize":4,"labelPadding":3,"title":null}},"y2":{"datum":30}}},
{"mark":{"type":"rule","color":"#b5b5b5","strokeDash":[4,3]},"encoding":{"y":{"datum":70,"type":"quantitative"}}},
{"mark":{"type":"rule","color":"#b5b5b5","strokeDash":[4,3]},"encoding":{"y":{"datum":30,"type":"quantitative"}}},
{"data":{"name":"rsi"},"mark":{"type":"line","color":"#4a86e8","strokeWidth":1,"clip":true},
"encoding":{"x":{"field":"i","type":"quantitative","scale":{"domain":[-0.43,262.1],"nice":false,"zero":false},"axis":{"values":[4,26,47,68,90,110,132,151,171,193,214,235,257],"tickCount":60,"labelExpr":"['Jul','Aug','Sep','Oct','Nov','Dec','2016','Feb','Mar','Apr','May','Jun','Jul'][indexof([4,26,47,68,90,110,132,151,171,193,214,235,257], datum.value)]","labelFontWeight":{"condition":{"test":"datum.value == 132","value":"bold"},"value":"normal"},"grid":true,"gridColor":"#e6e6e6","tickSize":4,"labelPadding":1,"title":null}},
"y":{"field":"r","type":"quantitative"}}},
{"data":{"values":[{"i":1.06,"r":57.5,"txt":"RSI (14, close)"}]},"mark":{"type":"text","font":"Open Sans","fontSize":12,"color":"#555","align":"left","baseline":"middle"},
"encoding":{"x":{"field":"i","type":"quantitative"},"y":{"field":"r","type":"quantitative"},"text":{"field":"txt"}}}
]
}
],
"spacing":0,
"config":{
"view":{"stroke":"#4d4d4d","strokeWidth":1,"fill":"white"},
"axis":{"labelFont":"Liberation Sans","labelFontSize":11.5,"labelColor":"#4d4d4d","domainColor":"#4d4d4d","tickColor":"#4d4d4d"}
}
}
